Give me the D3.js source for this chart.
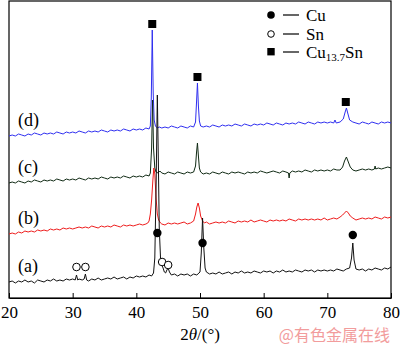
<!DOCTYPE html>
<html>
<head>
<meta charset="utf-8">
<script src="https://cdn.jsdelivr.net/npm/d3@7"></script>
<style>
  body { margin: 0; background: #fff; }
  svg { display: block; }
  text { font-family: "Liberation Serif", "Times New Roman", serif; }
</style>
</head>
<body>
<div id="chart"></div>
<script>
// tick labels of the 2θ axis
const twoThetaTicks = [20, 30, 40, 50, 60, 70, 80];

// traces: [2θ, intensity (arb.)]
const traceA = [[20.0,16],[20.5,17],[21.0,15],[21.5,17],[22.0,16],[22.5,18],[23.0,16],[23.5,17],[24.0,15],[24.5,18],[25.0,17],[25.5,16],[26.0,18],[26.5,17],[27.0,19],[27.5,17],[28.0,18],[28.5,17],[29.0,19],[29.5,18],[30.0,19],[30.4,18],[30.6,23],[30.8,18],[31.0,19],[31.5,18],[31.8,19],[32.0,24],[32.2,18],[32.5,17],[33.0,19],[33.5,18],[34.0,20],[34.5,18],[35.0,19],[35.5,20],[36.0,19],[36.5,21],[37.0,19],[37.5,20],[38.0,21],[38.5,19],[39.0,21],[39.5,20],[40.0,22],[40.5,21],[41.0,22],[41.5,21],[42.0,23],[42.4,22],[42.7,25],[42.9,40],[43.1,110],[43.3,203],[43.45,140],[43.6,70],[43.8,40],[44.0,33],[44.2,30],[44.4,26],[44.6,25],[44.8,28],[45.0,30],[45.2,26],[45.5,23],[46.0,24],[46.5,22],[47.0,24],[47.5,23],[48.0,24],[48.5,22],[49.0,24],[49.5,23],[50.0,26],[50.2,45],[50.4,80],[50.6,50],[50.8,30],[51.0,26],[51.5,24],[52.0,25],[52.5,24],[53.0,26],[53.5,24],[54.0,25],[54.5,26],[55.0,24],[55.5,26],[56.0,25],[56.5,27],[57.0,25],[57.5,26],[58.0,25],[58.5,27],[59.0,26],[59.5,25],[60.0,27],[60.5,26],[61.0,27],[61.5,25],[62.0,27],[62.5,26],[63.0,28],[63.5,26],[64.0,27],[64.5,26],[65.0,28],[65.5,27],[66.0,26],[66.5,28],[67.0,27],[67.5,28],[68.0,26],[68.5,28],[69.0,27],[69.5,28],[70.0,27],[70.5,28],[71.0,27],[71.5,29],[72.0,28],[72.5,27],[73.0,29],[73.5,30],[73.8,40],[74.0,55],[74.2,38],[74.5,29],[75.0,28],[75.5,29],[76.0,27],[76.5,29],[77.0,28],[77.5,30],[78.0,29],[78.5,28],[79.0,30],[79.5,29],[80.0,31]];

const traceB = [[20.0,64],[20.5,65],[21.0,64],[21.5,66],[22.0,65],[22.5,67],[23.0,66],[23.5,67],[24.0,66],[24.5,68],[25.0,67],[25.5,68],[26.0,67],[26.5,69],[27.0,68],[27.5,69],[28.0,68],[28.5,70],[29.0,69],[29.5,70],[30.0,69],[30.5,70],[31.0,71],[31.5,70],[32.0,71],[32.5,70],[33.0,72],[33.5,71],[34.0,70],[34.5,72],[35.0,71],[35.5,72],[36.0,71],[36.5,73],[37.0,72],[37.5,71],[38.0,73],[38.5,72],[39.0,73],[39.5,72],[40.0,73],[40.5,74],[41.0,73],[41.5,74],[41.8,75],[42.0,77],[42.2,84],[42.4,98],[42.6,118],[42.75,130],[42.9,124],[43.1,100],[43.3,84],[43.5,78],[43.8,75],[44.0,74],[44.5,73],[45.0,75],[45.5,74],[46.0,75],[46.5,74],[47.0,75],[47.5,76],[48.0,74],[48.5,75],[49.0,77],[49.3,84],[49.5,91],[49.7,95],[49.9,90],[50.1,82],[50.4,77],[50.7,75],[51.0,76],[51.5,74],[52.0,75],[52.5,76],[53.0,75],[53.5,76],[54.0,75],[54.5,77],[55.0,76],[55.5,75],[56.0,77],[56.5,76],[57.0,77],[57.5,76],[58.0,78],[58.5,76],[59.0,77],[59.5,78],[60.0,77],[60.5,76],[61.0,78],[61.5,77],[62.0,78],[62.5,77],[63.0,78],[63.5,77],[64.0,79],[64.5,78],[65.0,77],[65.5,79],[66.0,78],[66.5,79],[67.0,78],[67.5,79],[68.0,78],[68.5,79],[69.0,78],[69.5,80],[70.0,78],[70.5,79],[71.0,80],[71.5,79],[72.0,81],[72.4,83],[72.7,85],[73.0,87],[73.3,85],[73.6,82],[74.0,80],[74.5,78],[75.0,79],[75.5,80],[76.0,79],[76.5,80],[77.0,79],[77.5,81],[78.0,80],[78.5,79],[79.0,81],[79.5,80],[80.0,81]];

const traceC = [[20.0,115],[20.5,116],[21.0,115],[21.5,117],[22.0,116],[22.5,115],[23.0,117],[23.5,116],[24.0,118],[24.5,117],[25.0,116],[25.5,118],[26.0,117],[26.5,118],[27.0,117],[27.5,119],[28.0,118],[28.5,117],[29.0,119],[29.5,118],[30.0,119],[30.5,118],[31.0,120],[31.5,119],[32.0,118],[32.5,120],[33.0,119],[33.5,120],[34.0,119],[34.5,121],[35.0,120],[35.5,119],[36.0,121],[36.5,120],[37.0,121],[37.5,120],[38.0,122],[38.5,121],[39.0,120],[39.5,122],[40.0,121],[40.5,122],[41.0,121],[41.5,123],[42.0,122],[42.2,125],[42.4,150],[42.55,198],[42.7,150],[42.9,130],[43.1,126],[43.4,125],[43.7,127],[44.0,125],[44.5,124],[45.0,126],[45.5,125],[46.0,124],[46.5,126],[47.0,125],[47.5,124],[48.0,126],[48.5,125],[49.0,126],[49.3,132],[49.45,145],[49.6,155],[49.75,142],[49.9,130],[50.1,126],[50.5,124],[51.0,125],[51.5,124],[52.0,126],[52.5,125],[53.0,124],[53.5,126],[54.0,125],[54.5,124],[55.0,126],[55.5,125],[56.0,126],[56.5,125],[57.0,124],[57.5,126],[58.0,125],[58.5,126],[59.0,125],[59.5,127],[60.0,126],[60.5,125],[61.0,126],[61.5,127],[62.0,126],[62.5,125],[63.0,127],[63.5,126],[63.9,125],[64.0,120],[64.1,125],[64.5,127],[65.0,126],[65.5,127],[66.0,126],[66.5,128],[67.0,127],[67.5,126],[68.0,128],[68.5,127],[69.0,128],[69.5,127],[70.0,128],[70.5,127],[71.0,129],[71.5,128],[72.0,128],[72.4,131],[72.7,137],[73.0,141],[73.3,136],[73.6,131],[74.0,128],[74.5,127],[75.0,128],[75.5,129],[76.0,128],[76.5,129],[77.0,128],[77.4,129],[77.5,132],[77.6,129],[78.0,130],[78.5,129],[79.0,130],[79.5,131],[80.0,130]];

const traceD = [[20.0,162],[20.5,163],[21.0,162],[21.5,164],[22.0,163],[22.5,162],[23.0,164],[23.5,163],[24.0,165],[24.5,164],[25.0,163],[25.5,165],[26.0,164],[26.5,165],[27.0,164],[27.5,166],[28.0,165],[28.5,164],[29.0,166],[29.5,165],[30.0,166],[30.5,165],[31.0,167],[31.5,166],[32.0,165],[32.5,167],[33.0,166],[33.5,167],[34.0,166],[34.5,168],[35.0,167],[35.5,166],[36.0,168],[36.5,167],[37.0,168],[37.5,167],[38.0,169],[38.5,168],[39.0,167],[39.5,169],[40.0,168],[40.5,169],[41.0,168],[41.5,170],[42.0,169],[42.2,172],[42.35,200],[42.5,268],[42.65,205],[42.8,178],[43.0,172],[43.3,170],[43.6,171],[44.0,170],[44.5,171],[45.0,170],[45.5,172],[46.0,171],[46.5,170],[47.0,172],[47.5,171],[48.0,170],[48.5,172],[49.0,171],[49.3,176],[49.45,195],[49.6,215],[49.75,192],[49.9,177],[50.1,172],[50.5,171],[51.0,172],[51.5,171],[52.0,173],[52.5,172],[53.0,171],[53.5,173],[54.0,172],[54.5,173],[55.0,172],[55.5,174],[56.0,173],[56.5,172],[57.0,174],[57.5,173],[58.0,172],[58.5,174],[59.0,173],[59.5,174],[60.0,173],[60.5,175],[61.0,174],[61.5,173],[62.0,175],[62.5,174],[63.0,173],[63.5,175],[64.0,174],[64.5,175],[65.0,174],[65.5,176],[66.0,175],[66.5,174],[67.0,176],[67.5,175],[68.0,174],[68.5,176],[69.0,175],[69.5,176],[70.0,175],[70.5,176],[71.0,175],[71.2,178],[71.4,175],[72.0,176],[72.5,179],[72.8,186],[73.0,190],[73.2,185],[73.5,178],[74.0,176],[74.5,175],[75.0,174],[75.5,176],[76.0,175],[76.5,174],[77.0,176],[77.5,175],[78.0,174],[78.5,176],[79.0,175],[79.5,176],[80.0,175]];

// phase markers: [2θ, intensity]
const cuPeaks = [[43.3, 65], [50.4, 55], [74.0, 63]];
const snPeaks = [[30.6, 31], [32.0, 31], [44.05, 36], [45.0, 33]];
const cu137SnPeaks = [[42.5, 274], [49.6, 221], [72.9, 196]];

const sampleNames = ["(a)", "(b)", "(c)", "(d)"];

const margin = { top: 1, right: 9, bottom: 48, left: 9 };
const width = 400 - margin.left - margin.right;
const height = 346 - margin.top - margin.bottom;

const svg = d3.select("#chart")
    .append("svg")
    .attr("width", 400)
    .attr("height", 346);

const g = svg.append("g")
    .attr("transform", `translate(${margin.left},${margin.top})`);

const x = d3.scaleLinear().domain([20, 80]).range([0, width]);
const y = d3.scaleLinear().domain([0, height]).range([height, 0]);

// frame
g.append("rect")
    .attr("x", 0).attr("y", 0)
    .attr("width", width).attr("height", height)
    .attr("fill", "none")
    .attr("stroke", "#000")
    .attr("stroke-width", 1.2);

// bottom axis, ticks pointing inward
const xAxis = g.append("g")
    .attr("transform", `translate(0,${height})`)
    .call(d3.axisBottom(x).tickValues(twoThetaTicks).tickSizeInner(-5).tickSizeOuter(0).tickPadding(8));
xAxis.select(".domain").attr("stroke-width", 1.2);
xAxis.selectAll(".tick line").attr("stroke-width", 1);
xAxis.selectAll("text")
    .style("font-family", "'Liberation Serif', 'Times New Roman', serif")
    .style("font-size", "17px")
    .attr("fill", "#000");

const line = d3.line().x(d => x(d[0])).y(d => y(d[1]));

const traces = [
    { data: traceD, color: "#2f2ff0", name: sampleNames[3] },
    { data: traceC, color: "#102a14", name: sampleNames[2] },
    { data: traceB, color: "#ee1c1c", name: sampleNames[1] },
    { data: traceA, color: "#111", name: sampleNames[0] }
];

traces.forEach(t => {
    g.append("path")
        .datum(t.data)
        .attr("fill", "none")
        .attr("stroke", t.color)
        .attr("stroke-width", 1)
        .attr("d", line);

    g.append("text")
        .attr("x", 9)
        .attr("y", y(t.data[0][1]) - 10)
        .style("font-size", "18px")
        .text(t.name);
});

// markers
g.selectAll(".cu")
    .data(cuPeaks)
    .enter().append("circle")
    .attr("cx", d => x(d[0]))
    .attr("cy", d => y(d[1]))
    .attr("r", 4.2)
    .attr("fill", "#000");

g.selectAll(".sn")
    .data(snPeaks)
    .enter().append("circle")
    .attr("cx", d => x(d[0]))
    .attr("cy", d => y(d[1]))
    .attr("r", 3.8)
    .attr("fill", "#fff")
    .attr("stroke", "#000")
    .attr("stroke-width", 1);

g.selectAll(".cusn")
    .data(cu137SnPeaks)
    .enter().append("rect")
    .attr("x", d => x(d[0]) - 4)
    .attr("y", d => y(d[1]) - 4)
    .attr("width", 8)
    .attr("height", 8)
    .attr("fill", "#000");

// legend
const legend = svg.append("g").attr("transform", "translate(271,15)");

legend.append("circle").attr("cx", 0).attr("cy", 0).attr("r", 3.8).attr("fill", "#000");
legend.append("circle").attr("cx", 0).attr("cy", 19).attr("r", 3.3)
    .attr("fill", "#fff").attr("stroke", "#000").attr("stroke-width", 1);
legend.append("rect").attr("x", -3.7).attr("y", 33).attr("width", 7.4).attr("height", 7.4).attr("fill", "#000");

[0, 19, 37].forEach(dy => {
    legend.append("line")
        .attr("x1", 12).attr("x2", 28)
        .attr("y1", dy).attr("y2", dy)
        .attr("stroke", "#000").attr("stroke-width", 1.2);
});

legend.append("text").attr("x", 35).attr("y", 6).style("font-size", "17px").text("Cu");
legend.append("text").attr("x", 35).attr("y", 25).style("font-size", "17px").text("Sn");
const cusnLabel = legend.append("text").attr("x", 35).attr("y", 43).style("font-size", "17px");
cusnLabel.append("tspan").text("Cu");
cusnLabel.append("tspan").attr("dy", 3).style("font-size", "11px").text("13.7");
cusnLabel.append("tspan").attr("dy", -3).text("Sn");

// axis title
const title = svg.append("text")
    .attr("x", 200)
    .attr("y", 340)
    .attr("text-anchor", "middle")
    .style("font-size", "17px");
title.append("tspan").text("2");
title.append("tspan").style("font-style", "italic").text("θ");
title.append("tspan").text("/(°)");

// watermark
svg.append("text")
    .attr("x", 390)
    .attr("y", 341)
    .attr("text-anchor", "end")
    .style("font-family", "'Noto Sans CJK SC', sans-serif")
    .style("font-size", "16px")
    .attr("fill", "#f29c9c")
    .text("@有色金属在线");
</script>
</body>
</html>
